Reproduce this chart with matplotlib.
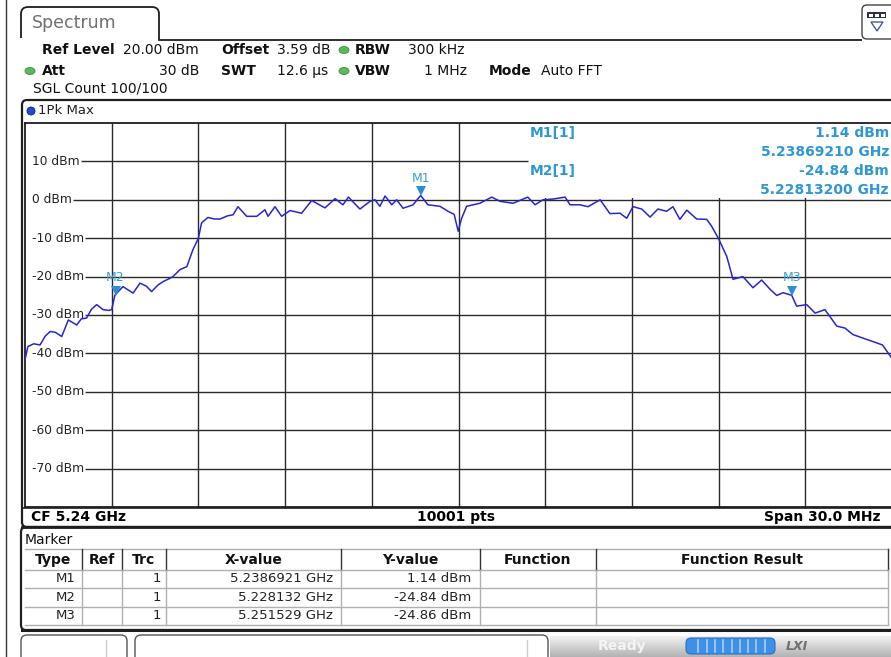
import numpy as np
import matplotlib
matplotlib.use('Agg')
import matplotlib.pyplot as plt
from matplotlib.patches import FancyBboxPatch, Rectangle, Ellipse, PathPatch, Polygon
from matplotlib.path import Path
import matplotlib.transforms as mtransforms

# ---------------- data ----------------
center_ghz = 5.24
span_mhz = 30.0
ref_level_dbm = 20.0
bottom_dbm = -80.0
y_tick_values = [10, 0, -10, -20, -30, -40, -50, -60, -70]
y_tick_labels = ['10 dBm', '0 dBm', '-10 dBm', '-20 dBm', '-30 dBm',
                 '-40 dBm', '-50 dBm', '-60 dBm', '-70 dBm']

# trace: frequency offset from start (MHz) and level (dBm)
trace_offset_mhz = [0.00, 0.10, 0.30, 0.52, 0.70, 0.87, 1.05, 1.27, 1.50, 1.79,
                    1.95, 2.13, 2.30, 2.48, 2.70, 2.90, 3.00, 3.11, 3.39, 3.74,
                    3.98, 4.20, 4.38, 4.60, 4.78, 5.00, 5.12, 5.36, 5.60, 5.81,
                    6.00, 6.11, 6.33, 6.55, 6.75, 7.00, 7.20, 7.37, 7.67, 8.02,
                    8.30, 8.41, 8.65, 8.88, 9.17, 9.57, 9.92, 10.38, 10.73, 11.00,
                    11.19, 11.59, 11.94, 12.11, 12.28, 12.46, 12.69, 12.86, 13.08, 13.43,
                    13.69, 13.94, 14.36, 14.64, 14.85, 14.99, 15.10, 15.28, 15.74, 16.15,
                    16.44, 16.89, 17.40, 17.65, 17.92, 18.27, 18.69, 18.86, 19.20, 19.48,
                    19.90, 20.24, 20.59, 20.82, 21.04, 21.34, 21.63, 21.90, 22.20, 22.42,
                    22.66, 22.90, 23.24, 23.59, 23.76, 23.99, 24.28, 24.50, 24.84, 25.19,
                    25.49, 25.78, 26.01, 26.23, 26.53, 26.70, 27.05, 27.34, 27.68, 28.09,
                    28.37, 28.65, 28.99, 29.33, 29.67, 30.00]
trace_dbm = [-41.7, -38.2, -37.5, -37.8, -35.5, -34.3, -34.5, -35.6, -31.3, -32.6,
             -31.0, -30.8, -28.5, -27.3, -28.6, -28.8, -28.6, -24.84, -22.6, -24.3,
             -21.7, -22.5, -23.9, -22.2, -21.3, -20.5, -20.0, -18.2, -17.4, -13.0,
             -10.0, -6.0, -4.6, -5.0, -5.0, -4.2, -3.9, -1.8, -4.3, -4.3,
             -2.6, -4.3, -1.8, -4.3, -2.8, -3.5, -0.2, -2.1, 0.3, -1.3,
             0.7, -2.4, -0.4, 0.0, -1.7, 1.0, -1.3, 0.0, -2.2, -1.3,
             1.14, -1.3, -1.7, -3.0, -3.8, -8.2, -5.0, -1.7, -0.9, 0.7,
             -0.4, -0.9, 0.7, -1.3, 0.0, 0.2, 0.7, -1.3, -1.3, -1.8,
             0.0, -3.6, -3.5, -4.8, -1.8, -2.4, -4.5, -2.4, -3.0, -1.8,
             -5.1, -2.7, -5.0, -5.1, -6.9, -10.0, -14.7, -20.7, -20.0, -22.9,
             -20.9, -23.3, -24.9, -24.2, -24.86, -27.7, -27.3, -29.5, -28.6, -32.9,
             -33.4, -35.1, -36.0, -36.9, -37.8, -41.3]

marker_names = ['M1', 'M2', 'M3']
marker_freq_ghz = [5.2386921, 5.228132, 5.251529]
marker_dbm = [1.14, -24.84, -24.86]

table_columns = ['Type', 'Ref', 'Trc', 'X-value', 'Y-value', 'Function', 'Function Result']
table_trc = ['1', '1', '1']
table_x_values = ['5.2386921 GHz', '5.228132 GHz', '5.251529 GHz']
table_y_values = ['1.14 dBm', '-24.84 dBm', '-24.86 dBm']

readout_lines = [('M1[1]', '1.14 dBm'), ('', '5.23869210 GHz'),
                 ('M2[1]', '-24.84 dBm'), ('', '5.22813200 GHz')]

# ---------------- figure ----------------
W, H = 891, 657
plt.rcParams['font.family'] = ['DejaVu Sans']
fig = plt.figure(figsize=(W / 100, H / 100), dpi=100)
fig.patch.set_facecolor('white')

bg = fig.add_axes([0, 0, 1, 1], zorder=0)
bg.set_xlim(0, W); bg.set_ylim(H, 0); bg.axis('off')


def rect_px(x0, y0, x1, y1):
    return [x0 / W, 1 - y1 / H, (x1 - x0) / W, (y1 - y0) / H]


ax = fig.add_axes(rect_px(25, 123, 892, 507), zorder=1)
fg = fig.add_axes([0, 0, 1, 1], zorder=2)
fg.set_xlim(0, W); fg.set_ylim(H, 0); fg.axis('off'); fg.patch.set_alpha(0)

DARK = '#1e1e1e'
TEAL = '#2f97d3'
GREEN = '#5cb85c'

# outer left line
bg.plot([6, 6], [0, H], color='#333333', lw=1.0)

# Spectrum tab
tab = Path([(21, 38), (21, 14), (21, 7), (28, 7), (152, 7), (159, 7), (159, 14), (159, 40), (862, 40)],
           [Path.MOVETO, Path.LINETO, Path.CURVE3, Path.CURVE3, Path.LINETO, Path.CURVE3, Path.CURVE3,
            Path.LINETO, Path.LINETO])
bg.add_patch(PathPatch(tab, fill=False, edgecolor=DARK, lw=1.3))
bg.text(32, 23, 'Spectrum', fontsize=12.5, color='#707070', va='center', ha='left')

# top-right icon
bg.add_patch(FancyBboxPatch((862, 5), 40, 34, boxstyle='round,pad=0,rounding_size=5',
                            facecolor='white', edgecolor='#444444', lw=1.0))
bg.add_patch(Rectangle((867, 12), 19, 6, facecolor='#303040', edgecolor='none'))
for sx in (868.5, 874.5, 880.5):
    bg.add_patch(Rectangle((sx, 13.5), 4, 3, facecolor='white', edgecolor='none'))
bg.add_patch(Polygon([(871, 22), (883, 22), (877, 31)], closed=True, fill=False,
                     edgecolor='#4a5a8a', lw=1.0))

# header rows
hfs = 10
def htext(x, y, s, bold=False, ha='left'):
    bg.text(x, y, s, fontsize=hfs, fontweight='bold' if bold else 'normal',
            ha=ha, va='center', color='#111111')

def gdot(x, y):
    bg.add_patch(Ellipse((x, y), 10, 7, facecolor=GREEN, edgecolor='#3e8e3e', lw=0.6))

htext(42, 50, 'Ref Level', True); htext(123, 50, '20.00 dBm')
htext(221, 50, 'Offset', True); htext(277, 50, '3.59 dB')
gdot(344, 50); htext(355, 50, 'RBW', True); htext(465, 50, '300 kHz', ha='right')
gdot(30, 71); htext(42, 71, 'Att', True); htext(199, 71, '30 dB', ha='right')
htext(221, 71, 'SWT', True); htext(277, 71, '12.6 µs')
gdot(344, 71); htext(355, 71, 'VBW', True); htext(467, 71, '1 MHz', ha='right')
htext(489, 71, 'Mode', True); htext(541, 71, 'Auto FFT')
htext(33, 88, 'SGL Count 100/100')

# trace window frame
bg.add_patch(FancyBboxPatch((22, 100), 880, 427, boxstyle='round,pad=0,rounding_size=5',
                            facecolor='white', edgecolor=DARK, lw=1.6))
bg.add_patch(Ellipse((31, 111), 8, 8, facecolor='#2346d8', edgecolor='#10205a', lw=0.6))
bg.text(38, 111, '1Pk Max', fontsize=9.5, va='center', ha='left', color='#222222')
bg.plot([22, 891], [507.5, 507.5], color=DARK, lw=1.2)
bg.text(31, 517, 'CF 5.24 GHz', fontsize=10, fontweight='bold', va='center', ha='left')
bg.text(456, 517, '10001 pts', fontsize=10, fontweight='bold', va='center', ha='center')
bg.text(880, 517, 'Span 30.0 MHz', fontsize=10, fontweight='bold', va='center', ha='right')

# ---------------- main spectrum axes ----------------
ax.set_xlim(0, span_mhz)
ax.set_ylim(bottom_dbm, ref_level_dbm)
ax.set_xticks([]); ax.set_yticks([])
for s in ('left', 'top', 'bottom'):
    ax.spines[s].set_color(DARK); ax.spines[s].set_linewidth(1.3)
ax.spines['right'].set_visible(False)

grid_col = '#2a2a2a'
for k in range(1, 10):
    ax.axvline(k * span_mhz / 10, color=grid_col, lw=1.0, zorder=1)

# readout box region (covers grid above 0 dBm on the right)
box_x0 = (528 - 25) / 867 * span_mhz
ax.add_patch(Rectangle((box_x0, 0.35), span_mhz - box_x0, ref_level_dbm - 0.35,
                       facecolor='white', edgecolor='none', zorder=1.5))

tick_texts = []
for v, lab in zip(y_tick_values, y_tick_labels):
    t = ax.text(0.25, v, lab, fontsize=8.8, va='center', ha='left', color='#222222', zorder=2)
    tick_texts.append(t)

fig.canvas.draw()
renderer = fig.canvas.get_renderer()
inv = ax.transData.inverted()
for t, v in zip(tick_texts, y_tick_values):
    bb = t.get_window_extent(renderer)
    x_start = inv.transform((bb.x1 + 1, 0))[0]
    x_end = box_x0 if v > 0 else span_mhz
    ax.hlines(v, x_start, x_end, color=grid_col, lw=1.0, zorder=1.6)

ax.plot(trace_offset_mhz, trace_dbm, color='#2626d0', lw=1.1, zorder=3)

start_ghz = center_ghz - span_mhz / 2000
tri_tr = mtransforms.offset_copy(ax.transData, fig=fig, x=0, y=4, units='dots')
for name, f, d in zip(marker_names, marker_freq_ghz, marker_dbm):
    x = (f - start_ghz) * 1000
    ax.plot([x], [d], marker='v', markersize=7, color='#2b8fd8', transform=tri_tr,
            zorder=4, markeredgewidth=0)
    ax.annotate(name, (x, d), xytext=(0, 12.5), textcoords='offset points',
                ha='center', va='center', fontsize=9, color='#3aa0d8', zorder=4)

# marker readouts
ry = [133, 152, 171, 190]
for (lft, rgt), y in zip(readout_lines, ry):
    if lft:
        fg.text(530, y, lft, fontsize=10, fontweight='bold', color=TEAL, ha='left', va='center')
    fg.text(889, y, rgt, fontsize=10, fontweight='bold', color=TEAL, ha='right', va='center')

# ---------------- marker table ----------------
bg.add_patch(FancyBboxPatch((21, 527), 880, 103, boxstyle='round,pad=0,rounding_size=5',
                            facecolor='white', edgecolor=DARK, lw=1.6))
bg.plot([22, 891], [630, 630], color=DARK, lw=2.2)
bg.plot([22, 891], [527, 527], color=DARK, lw=2.0)
bg.text(25, 540, 'Marker', fontsize=10, va='center', ha='left', color='#111111')

col_edges = [25, 81.7, 121.7, 165.7, 340.7, 480, 595.5, 888]
row_edges = [549, 570, 588, 606.5, 625]
light = '#b0b0b0'
for y in row_edges:
    bg.plot([25, 888], [y, y], color=light, lw=1.0)
for x in col_edges[1:]:
    bg.plot([x, x], [549, 570], color='#333333', lw=1.0)
    bg.plot([x, x], [570, 625], color=light, lw=1.0)
for i, c in enumerate(table_columns):
    xc = (col_edges[i] + col_edges[i + 1]) / 2
    bg.text(xc, 560, c, fontsize=10, fontweight='bold', ha='center', va='center', color='#111111')
row_y = [579, 597.5, 615.5]
for i in range(3):
    y = row_y[i]
    bg.text(76, y, marker_names[i], fontsize=9.5, ha='right', va='center', color='#222222')
    bg.text(161, y, table_trc[i], fontsize=9.5, ha='right', va='center', color='#222222')
    bg.text(333, y, table_x_values[i], fontsize=9.5, ha='right', va='center', color='#222222')
    bg.text(471, y, table_y_values[i], fontsize=9.5, ha='right', va='center', color='#222222')

# ---------------- status bar ----------------
bg.add_patch(FancyBboxPatch((21, 635), 106, 40, boxstyle='round,pad=0,rounding_size=6',
                            facecolor='white', edgecolor='#555555', lw=1.0))
bg.add_patch(FancyBboxPatch((135, 635), 413, 40, boxstyle='round,pad=0,rounding_size=6',
                            facecolor='white', edgecolor='#555555', lw=1.0))
bg.plot([106, 106], [640, 657], color='#cccccc', lw=1.0)
bg.plot([527, 527], [640, 657], color='#cccccc', lw=1.0)

grad = np.linspace(0, 1, 30)[:, None]
top = np.array([0.95, 0.95, 0.95]); bot = np.array([0.70, 0.70, 0.71])
img = top[None, None, :] * (1 - grad[:, :, None]) + bot[None, None, :] * grad[:, :, None]
img = np.repeat(img, 10, axis=1)
bg.imshow(img, extent=(550, 891, 657, 636), aspect='auto', zorder=0.5, interpolation='bilinear')
bg.set_xlim(0, W); bg.set_ylim(H, 0)
bg.text(598, 646, 'Ready', fontsize=10, fontweight='bold', color='#f4f4f4', ha='left', va='center', zorder=2)
bg.add_patch(FancyBboxPatch((686, 638), 89, 16, boxstyle='round,pad=0,rounding_size=5',
                            facecolor='#3d8fe8', edgecolor='#2c6fc4', lw=0.8, zorder=2))
for k in range(1, 10):
    xs = 686 + 4 + k * 8.3
    bg.plot([xs, xs], [640, 652], color='#a8d0f8', lw=1.2, zorder=3)
bg.text(786, 646, 'LXI', fontsize=9, fontweight='bold', fontstyle='italic', color='#707070',
        ha='left', va='center', zorder=2)

fig.savefig('out.png', dpi=100, facecolor='white')
